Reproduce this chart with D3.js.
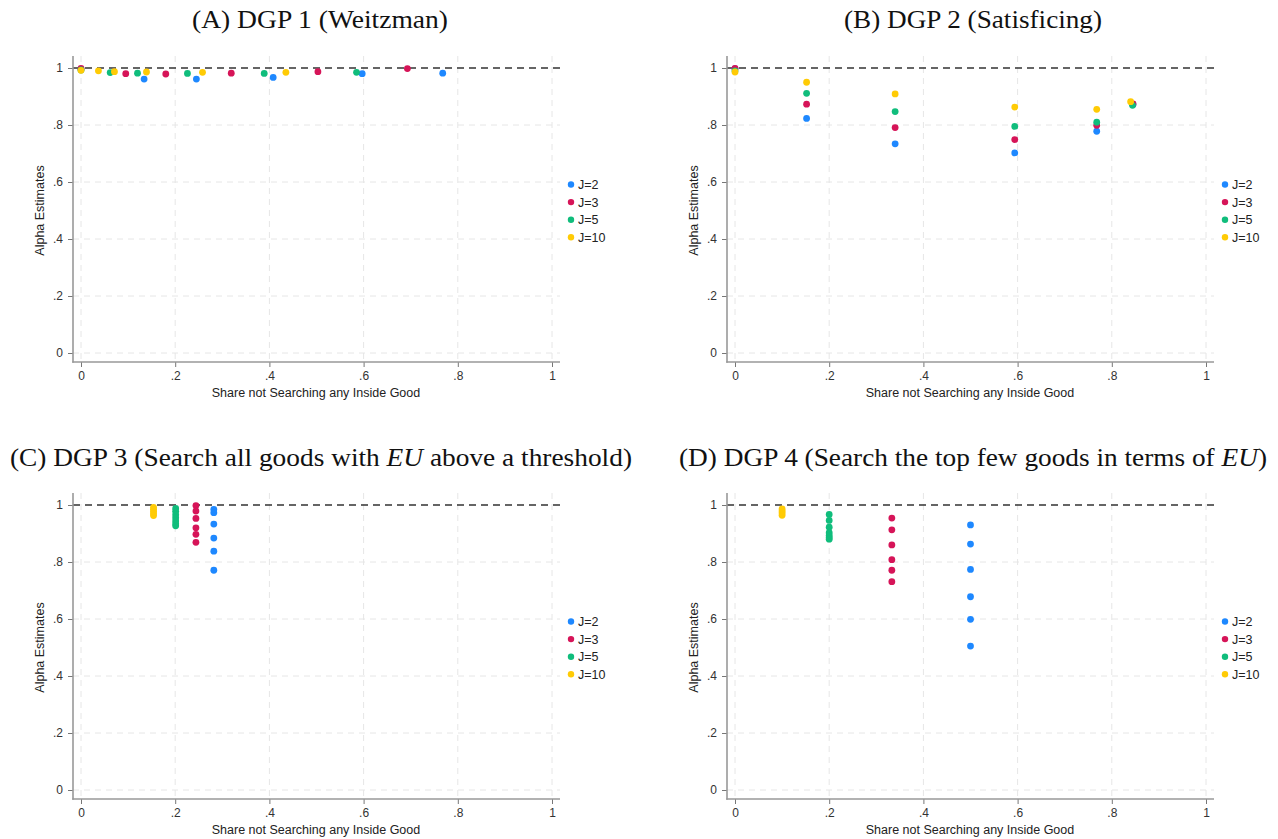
<!DOCTYPE html>
<html>
<head>
<meta charset="utf-8">
<script src="https://cdn.jsdelivr.net/npm/d3@7"></script>
<style>
  body { margin: 0; background: #fff; }
  svg { display: block; }
  .tick text { font-family: "Liberation Sans", Arial, sans-serif; font-size: 12px; fill: #333; }
</style>
</head>
<body>
<svg id="chart" width="1278" height="839"></svg>
<script>
// ---------------- DATA ----------------
const seriesNames = ["J=2", "J=3", "J=5", "J=10"];
const seriesColors = ["#1e88ff", "#d61458", "#10bd7c", "#ffcb05"];
const xTickValues = [0, 0.2, 0.4, 0.6, 0.8, 1];
const xTickLabels = ["0", ".2", ".4", ".6", ".8", "1"];
const yTickValues = [0, 0.2, 0.4, 0.6, 0.8, 1];
const yTickLabels = ["0", ".2", ".4", ".6", ".8", "1"];
const referenceValue = 1;
const panelTitles = [
  "(A) DGP 1 (Weitzman)",
  "(B) DGP 2 (Satisficing)",
  "(C) DGP 3 (Search all goods with EU above a threshold)",
  "(D) DGP 4 (Search the top few goods in terms of EU)"
];
const xAxisTitle = "Share not Searching any Inside Good";
const yAxisTitle = "Alpha Estimates";

// Panel A: [share not searching, alpha estimate]
const panelA_J2  = [[0, 0.995], [0.134, 0.961], [0.245, 0.961], [0.408, 0.967], [0.597, 0.980], [0.768, 0.982]];
const panelA_J3  = [[0, 0.999], [0.095, 0.980], [0.180, 0.979], [0.319, 0.982], [0.503, 0.987], [0.693, 0.998]];
const panelA_J5  = [[0, 0.993], [0.062, 0.984], [0.120, 0.982], [0.226, 0.981], [0.389, 0.981], [0.585, 0.985]];
const panelA_J10 = [[0, 0.992], [0.037, 0.990], [0.071, 0.987], [0.139, 0.986], [0.258, 0.985], [0.435, 0.985]];

// Panel B
const panelB_J2  = [[0, 0.998], [0.152, 0.823], [0.340, 0.734], [0.594, 0.702], [0.768, 0.778], [0.845, 0.872]];
const panelB_J3  = [[0, 0.999], [0.152, 0.873], [0.340, 0.791], [0.594, 0.749], [0.768, 0.799], [0.845, 0.874]];
const panelB_J5  = [[0, 0.990], [0.152, 0.911], [0.340, 0.847], [0.594, 0.795], [0.768, 0.810], [0.844, 0.869]];
const panelB_J10 = [[0, 0.986], [0.152, 0.950], [0.340, 0.909], [0.594, 0.863], [0.768, 0.855], [0.840, 0.882]];

// Panel C
const panelC_J2  = [[0.282, 0.985], [0.282, 0.973], [0.282, 0.933], [0.282, 0.884], [0.282, 0.838], [0.282, 0.771]];
const panelC_J3  = [[0.244, 0.998], [0.244, 0.979], [0.244, 0.953], [0.244, 0.920], [0.244, 0.897], [0.244, 0.869]];
const panelC_J5  = [[0.201, 0.988], [0.201, 0.978], [0.201, 0.966], [0.201, 0.955], [0.201, 0.944], [0.201, 0.934], [0.201, 0.927]];
const panelC_J10 = [[0.154, 0.992], [0.154, 0.985], [0.154, 0.978], [0.154, 0.970], [0.154, 0.963]];

// Panel D
const panelD_J2  = [[0.5, 0.930], [0.5, 0.863], [0.5, 0.774], [0.5, 0.678], [0.5, 0.599], [0.5, 0.505]];
const panelD_J3  = [[0.333, 0.954], [0.333, 0.913], [0.333, 0.860], [0.333, 0.808], [0.333, 0.771], [0.333, 0.731]];
const panelD_J5  = [[0.2, 0.967], [0.2, 0.946], [0.2, 0.922], [0.2, 0.903], [0.2, 0.893], [0.2, 0.886], [0.2, 0.880]];
const panelD_J10 = [[0.1, 0.986], [0.1, 0.979], [0.1, 0.972], [0.1, 0.964]];

const panelSeries = [
  [panelA_J2, panelA_J3, panelA_J5, panelA_J10],
  [panelB_J2, panelB_J3, panelB_J5, panelB_J10],
  [panelC_J2, panelC_J3, panelC_J5, panelC_J10],
  [panelD_J2, panelD_J3, panelD_J5, panelD_J10]
];

// ---------------- LAYOUT ----------------
const svg = d3.select("#chart");
const offsets = [[0, 0], [654, 0], [0, 437], [654, 437]];
const titleWidths = [256, 258, 622, 588];
const titleCenters = [320, 973, 321, 973];
const titleBaselines = [28, 28, 466, 466];

const sansFont = "'Liberation Sans', Arial, sans-serif";
const serifFont = "'Liberation Serif', 'Times New Roman', serif";

panelTitles.forEach((title, i) => {
  const [ox, oy] = offsets[i];
  const g = svg.append("g");

  const x = d3.scaleLinear().domain([0, 1]).range([ox + 81, ox + 552]);
  const y = d3.scaleLinear().domain([0, 1]).range([oy + 353, oy + 68]);
  const axisX = ox + 73;           // y-axis line position
  const axisY = oy + 362;          // x-axis line position
  const plotTop = oy + 56;
  const plotRight = ox + 560;

  // gridlines
  g.append("g").selectAll("line.hg")
    .data(yTickValues.filter(v => v !== referenceValue))
    .join("line")
    .attr("x1", axisX).attr("x2", plotRight)
    .attr("y1", d => y(d)).attr("y2", d => y(d))
    .attr("stroke", "#e6e6e6").attr("stroke-width", 1)
    .attr("stroke-dasharray", "6,5");
  g.append("g").selectAll("line.vg")
    .data(xTickValues)
    .join("line")
    .attr("x1", d => x(d)).attr("x2", d => x(d))
    .attr("y1", plotTop).attr("y2", axisY)
    .attr("stroke", "#e6e6e6").attr("stroke-width", 1)
    .attr("stroke-dasharray", "6,5");

  // reference dashed line at 1
  g.append("line")
    .attr("x1", axisX).attr("x2", plotRight)
    .attr("y1", y(referenceValue)).attr("y2", y(referenceValue))
    .attr("stroke", "#333").attr("stroke-width", 1.3)
    .attr("stroke-dasharray", "7,5");

  // axes
  const yAxis = d3.axisLeft(y).tickValues(yTickValues)
    .tickFormat((d, k) => yTickLabels[k]).tickSize(5).tickPadding(5);
  const ya = g.append("g").attr("transform", `translate(${axisX},0)`).call(yAxis);
  ya.select(".domain").remove();
  ya.selectAll(".tick line").attr("stroke", "#777");

  const xAxis = d3.axisBottom(x).tickValues(xTickValues)
    .tickFormat((d, k) => xTickLabels[k]).tickSize(5).tickPadding(4);
  const xa = g.append("g").attr("transform", `translate(0,${axisY})`).call(xAxis);
  xa.select(".domain").remove();
  xa.selectAll(".tick line").attr("stroke", "#777");

  g.append("line").attr("x1", axisX).attr("x2", axisX)
    .attr("y1", plotTop).attr("y2", axisY + 0.75)
    .attr("stroke", "#999").attr("stroke-width", 1.6);
  g.append("line").attr("x1", axisX - 0.75).attr("x2", plotRight)
    .attr("y1", axisY).attr("y2", axisY)
    .attr("stroke", "#999").attr("stroke-width", 1.6);

  // axis titles
  g.append("text")
    .attr("x", (ox + 81 + ox + 552) / 2 - 0.5).attr("y", oy + 397)
    .attr("text-anchor", "middle")
    .attr("font-family", sansFont).attr("font-size", 12.5).attr("fill", "#222")
    .text(xAxisTitle);
  g.append("text")
    .attr("transform", `translate(${ox + 44},${(y(0) + y(1)) / 2}) rotate(-90)`)
    .attr("text-anchor", "middle")
    .attr("font-family", sansFont).attr("font-size", 12.5).attr("fill", "#222")
    .text(yAxisTitle);

  // points
  panelSeries[i].forEach((pts, s) => {
    g.append("g").selectAll("circle")
      .data(pts)
      .join("circle")
      .attr("cx", d => x(d[0])).attr("cy", d => y(d[1]))
      .attr("r", 3.4)
      .attr("fill", seriesColors[s]);
  });

  // legend
  const lg = g.append("g");
  seriesNames.forEach((name, s) => {
    const ly = oy + 184.5 + s * 17.6;
    lg.append("circle").attr("cx", ox + 571).attr("cy", ly).attr("r", 3.2).attr("fill", seriesColors[s]);
    lg.append("text").attr("x", ox + 578).attr("y", ly).attr("dy", "0.36em")
      .attr("font-family", sansFont).attr("font-size", 12.5).attr("fill", "#222")
      .text(name);
  });

  // title (EU in italics)
  const t = svg.append("text")
    .attr("x", titleCenters[i]).attr("y", titleBaselines[i])
    .attr("text-anchor", "middle")
    .attr("font-family", serifFont).attr("font-size", 24.5).attr("fill", "#111")
    .attr("textLength", titleWidths[i]).attr("lengthAdjust", "spacingAndGlyphs");
  const parts = title.split(/(EU)/);
  parts.forEach(p => {
    if (!p) return;
    const ts = t.append("tspan").text(p);
    if (p === "EU") ts.attr("font-style", "italic");
  });
});
</script>
</body>
</html>
